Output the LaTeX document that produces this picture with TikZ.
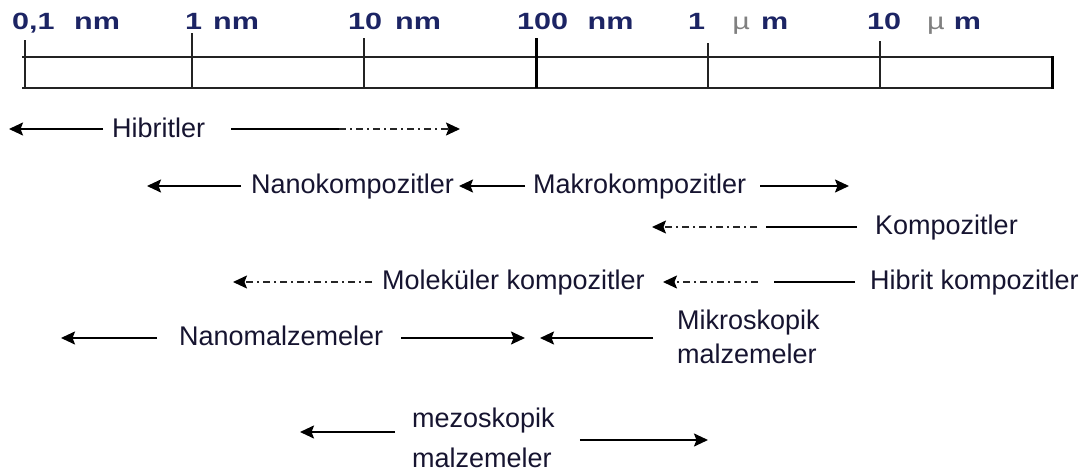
\documentclass[tikz,border=0pt]{standalone}
\usepackage{graphicx}
\usepackage{fontspec}
\setmainfont{Liberation Sans}
\usetikzlibrary{arrows.meta,calc}
\definecolor{lbl}{RGB}{28,36,100}
\definecolor{txt}{RGB}{22,20,48}
\definecolor{rulecol}{RGB}{35,35,35}
\newcommand\mytwolines[3]{\vtop{\baselineskip=#1\hbox{#2}\hbox{#3}}}
\newcommand\mysc[1]{\scalebox{1.3}[1]{#1}}
\begin{document}
\begin{tikzpicture}[x=1pt,y=-1pt,
  toplabel/.style={anchor=base west, inner sep=0pt, text=lbl, font=\fontsize{23.5}{27}\selectfont\bfseries},
  lab/.style={anchor=base west, inner sep=0pt, text=txt, font=\fontsize{27}{32}\selectfont},
  scaleline/.style={draw=rulecol, line width=1.6pt},
  thicktick/.style={draw=black, line width=3pt},
  arr/.style={line width=1.9pt, -{Stealth[length=14pt,width=13pt,inset=2.5pt]}},
  plain/.style={line width=1.9pt},
  dd/.style={line width=1.5pt, draw=black!85, dash pattern=on 7pt off 4pt on 2pt off 4pt},
  ddarr/.style={dd, -{Stealth[length=14pt,width=13pt,inset=2.5pt,color=black]}}
]
\fill[white] (0,0) rectangle (1085,471);
\useasboundingbox (0,0) rectangle (1085,471);

% scale bar
\draw[scaleline] (22,57) -- (1052,57);
\draw[scaleline] (22,88) -- (1052,88);
\draw[scaleline] (25,40) -- (25,88);
\draw[scaleline] (192,33) -- (192,88);
\draw[scaleline] (364,38) -- (364,88);
\draw[thicktick] (536,38) -- (536,88);
\draw[scaleline] (708,43) -- (708,88);
\draw[scaleline] (880,41) -- (880,88);
\draw[thicktick] (1052,56) -- (1052,89);

% scale labels
\node[toplabel] (t01) at (12,29) {\mysc{0,1\hspace{15pt}nm}};
\node[toplabel] (t1) at (185,29) {\mysc{1\hspace{8.5pt}nm}};
\node[toplabel] (t10) at (348,29) {\mysc{10\hspace{10pt}nm}};
\node[toplabel] (t100) at (517,29) {\mysc{100\hspace{15pt}nm}};
\node[toplabel] (t1u) at (688,29) {\mysc{1\hspace{21pt}{\color{gray}\mdseries µ}\hspace{8.5pt}m}};
\node[toplabel] (t10u) at (867,29) {\mysc{10\hspace{20pt}{\color{gray}\mdseries µ}\hspace{7pt}m}};

% row 1
\node[lab] (hib) at (112,137) {Hibritler};
\coordinate (hibL) at (9,129);
\coordinate (hibM) at (339,129);
\coordinate (hibR) at (460,129);
\draw[arr] ($(hib.west|-hibL)+(-9,0)$) -- (hibL);
\draw[plain] ($(hib.east|-hibL)+(26,0)$) -- (hibM);
\draw[ddarr] (hibM) -- (hibR);

% row 2
\node[lab] (nanok) at (251,193.5) {Nanokompozitler};
\node[lab] (makro) at (533,193.5) {Makrokompozitler};
\coordinate (r2L) at (147,186);
\coordinate (r2R) at (849,186);
\draw[arr] ($(nanok.west|-r2L)+(-10,0)$) -- (r2L);
\draw[arr] ($(makro.west|-r2L)+(-8,0)$) -- ($(nanok.east|-r2L)+(5,0)$);
\draw[arr] ($(makro.east|-r2L)+(14,0)$) -- (r2R);

% row 3
\node[lab] (komp) at (875,234.5) {Kompozitler};
\coordinate (r3M) at (766,227);
\coordinate (r3D) at (757,227);
\coordinate (r3L) at (652,227);
\draw[plain] ($(komp.west|-r3M)+(-18,0)$) -- (r3M);
\draw[ddarr] (r3D) -- (r3L);

% row 4
\node[lab] (hibk) at (870,289.5) {Hibrit kompozitler};
\node[lab] (molek) at (382,289.5) {Moleküler kompozitler};
\coordinate (r4M) at (774,282);
\coordinate (r4D) at (758,282);
\coordinate (r4L) at (233,282);
\draw[plain] ($(hibk.west|-r4M)+(-15,0)$) -- (r4M);
\draw[ddarr] (r4D) -- ($(molek.east|-r4M)+(18,0)$);
\draw[ddarr] ($(molek.west|-r4M)+(-10,0)$) -- (r4L);

% row 5
\node[lab] (nanom) at (179,345.5) {Nanomalzemeler};
\node[lab] (mikro) at (677,329) {\mytwolines{34pt}{Mikroskopik}{malzemeler}};
\coordinate (r5L) at (61,338);
\coordinate (r5R) at (525,338);
\coordinate (r5T) at (540,338);
\draw[arr] ($(nanom.west|-r5L)+(-22,0)$) -- (r5L);
\draw[arr] ($(nanom.east|-r5L)+(18,0)$) -- (r5R);
\draw[arr] ($(mikro.west|-r5L)+(-24,0)$) -- (r5T);

% row 6
\node[lab] (meso) at (412,427) {\mytwolines{40pt}{mezoskopik}{malzemeler}};
\coordinate (r6L) at (300,432);
\coordinate (r6R) at (708,440);
\draw[arr] ($(meso.west|-r6L)+(-17,0)$) -- (r6L);
\draw[arr] ($(meso.east|-r6R)+(25,0)$) -- (r6R);
\end{tikzpicture}
\end{document}
